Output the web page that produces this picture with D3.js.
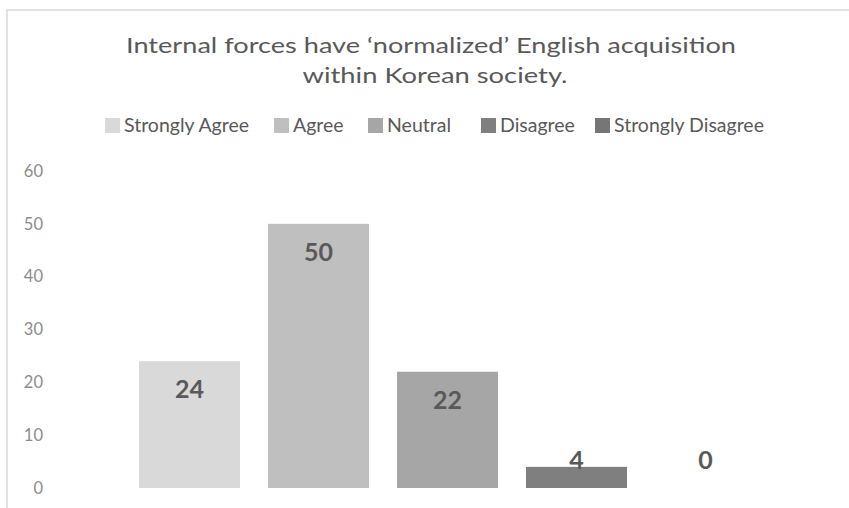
<!DOCTYPE html>
<html>
<head>
<meta charset="utf-8">
<title>Internal forces have 'normalized' English acquisition</title>
<style>
  body { margin: 0; background: #fff; }
  svg { display: block; font-family: Lato, "Open Sans", sans-serif; }
</style>
</head>
<body>
<div id="chart"></div>
<script src="https://cdn.jsdelivr.net/npm/d3@7"></script>
<script>
// survey answers
var categories = ["Strongly Agree", "Agree", "Neutral", "Disagree", "Strongly Disagree"];
var counts = [24, 50, 22, 4, 0];
var barColors = ["#d9d9d9", "#bfbfbf", "#a6a6a6", "#7f7f7f", "#767676"];
var yTicks = [0, 10, 20, 30, 40, 50, 60];
var titleLines = ["Internal forces have \u2018normalized\u2019 English acquisition", "within Korean society."];

var width = 849, height = 508;

var svg = d3.select("#chart").append("svg")
    .attr("width", width)
    .attr("height", height);

// chart frame (only top and left edges show in the crop)
svg.append("rect")
    .attr("x", 7).attr("y", 10)
    .attr("width", 900).attr("height", 600)
    .attr("fill", "none")
    .attr("stroke", "#d9d9d9")
    .attr("stroke-width", 1.5);

// title - the original font is wider than Lato, so stretch each line to fit
var titleWidths = [610, 265];
svg.append("text")
    .attr("text-anchor", "middle")
    .attr("fill", "#595959")
    .style("font-size", "22px")
    .selectAll("tspan")
    .data(titleLines)
    .join("tspan")
    .attr("x", function(d, i) { return i ? 435 : 431; })
    .attr("y", function(d, i) { return 53 + i * 29.5; })
    .attr("textLength", function(d, i) { return titleWidths[i]; })
    .attr("lengthAdjust", "spacingAndGlyphs")
    .text(function(d) { return d; });

// legend
var legendX = [105, 274, 368, 481, 595];
var legend = svg.append("g").selectAll("g")
    .data(categories)
    .join("g")
    .attr("transform", function(d, i) { return "translate(" + legendX[i] + ",118)"; });
legend.append("rect")
    .attr("width", 15).attr("height", 15)
    .attr("fill", function(d, i) { return barColors[i]; });
legend.append("text")
    .attr("x", 19).attr("y", 14)
    .attr("fill", "#595959")
    .style("font-size", "19.5px")
    .text(function(d) { return d; });

// scales
var x = d3.scaleBand()
    .domain(categories)
    .range([125, 770])
    .paddingInner(0.217)
    .paddingOuter(0.1085);

var y = d3.scaleLinear()
    .domain([0, 60])
    .range([488, 171]);

// y axis, labels only
var yAxis = d3.axisLeft(y).tickValues(yTicks).tickSize(0).tickPadding(0);
var ya = svg.append("g")
    .attr("transform", "translate(43,0)")
    .call(yAxis);
ya.select(".domain").remove();
ya.selectAll("text")
    .attr("fill", "#8c8c8c")
    .style("font-size", "16.5px")
    .style("font-family", "Lato, 'Open Sans', sans-serif");

// bars
svg.append("g").selectAll("rect")
    .data(counts)
    .join("rect")
    .attr("x", function(d, i) { return x(categories[i]); })
    .attr("y", function(d) { return y(d); })
    .attr("width", x.bandwidth())
    .attr("height", function(d) { return y(0) - y(d); })
    .attr("fill", function(d, i) { return barColors[i]; });

// data labels, inside end (pushed up for short bars)
svg.append("g").selectAll("text")
    .data(counts)
    .join("text")
    .attr("x", function(d, i) { return x(categories[i]) + x.bandwidth() / 2; })
    .attr("y", function(d) { return Math.min(y(d) + 28, y(0) - 28); })
    .attr("dy", "0.36em")
    .attr("text-anchor", "middle")
    .attr("fill", "#595959")
    .style("font-size", "25px")
    .style("font-weight", "bold")
    .text(function(d) { return d; });
</script>
</body>
</html>
